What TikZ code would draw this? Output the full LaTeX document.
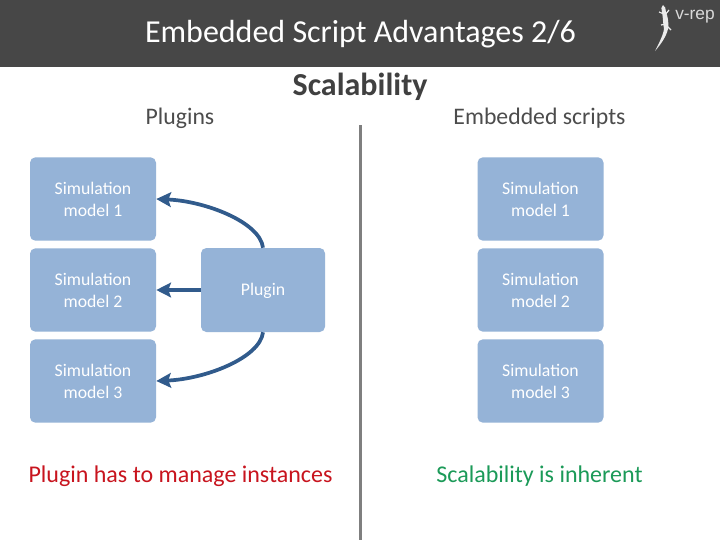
\documentclass[tikz,border=0pt]{standalone}
\usepackage{fontspec}
\setmainfont{Carlito}
\newfontfamily\logofont{Liberation Sans}
\usetikzlibrary{arrows.meta}
\definecolor{hdr}{HTML}{474747}
\definecolor{boxfill}{HTML}{95B3D7}
\definecolor{arrowc}{HTML}{315B8C}
\definecolor{divc}{HTML}{7F7F7F}
\definecolor{redtxt}{HTML}{C8141E}
\definecolor{greentxt}{HTML}{1B9A58}
\tikzset{
  simbox/.style={fill=boxfill,draw=none,rounded corners=4pt,minimum width=94.5pt,minimum height=62.5pt,inner sep=0pt,text=white,align=center,font=\fontsize{13.3}{16.5}\selectfont},
  plugbox/.style={simbox,minimum width=93pt,minimum height=63pt},
  link/.style={draw=arrowc,line width=2.8pt,-{Stealth[length=11pt,width=11pt,inset=2pt]}},
  heading/.style={text=black!70,font=\fontsize{17.8}{20}\selectfont,inner sep=0pt},
  result/.style={font=\fontsize{18}{20}\selectfont,inner sep=0pt}
}
\begin{document}
\begin{tikzpicture}[x=0.75pt,y=-0.75pt]
\useasboundingbox (0,0) rectangle (720,540);
\fill[white] (0,0) rectangle (720,540);
\fill[hdr] (0,0) rectangle (720,67);
\node[text=white,font=\fontsize{24}{26}\selectfont,inner sep=0pt] (title) at (360.5,34.5) {Embedded Script Advantages 2/6};
\node[text=black!75,font=\bfseries\fontsize{24}{26}\selectfont,inner sep=0pt] (scal) at (360,87) {Scalability};
\node[heading] (hl) at (180,118) {Plugins};
\node[heading] (hr) at (539.5,118) {Embedded scripts};
\coordinate (d1) at (360.5,125);
\coordinate (d2) at (360.5,540);
\draw[divc,line width=2.2pt] (d1) -- (d2);
\node[simbox] (a1) at (93,199) {Simulation\\model 1};
\node[simbox] (a2) at (93,290) {Simulation\\model 2};
\node[simbox] (a3) at (93,381) {Simulation\\model 3};
\node[plugbox] (p) at (263,290) {\raisebox{0pt}[11pt][2.5pt]{Plugin}};
\node[simbox] (b1) at (540.5,199) {Simulation\\model 1};
\node[simbox] (b2) at (540.5,290) {Simulation\\model 2};
\node[simbox] (b3) at (540.5,381) {Simulation\\model 3};
\draw[link] (p.north) .. controls (260,222) and (205,201) .. (a1.east);
\draw[link] (p.west) -- (a2.east);
\draw[link] (p.south) .. controls (260,358) and (205,379) .. (a3.east);
\node[result,text=redtxt] (rl) at (180.5,476) {Plugin has to manage instances};
\node[result,text=greentxt] (rr) at (539.5,476) {Scalability is inherent};
% logo
\node[text=white!85!black,font=\logofont\fontsize{13}{15}\selectfont,inner sep=0pt] (logo) at (695,17) {v-rep};
\fill[white!92!black] (663,5) .. controls (665,6) and (666,9) .. (666,12) .. controls (668,17) and (669,24) .. (668,29) .. controls (666,37) and (661,44) .. (655,51) .. controls (658,45) and (663,36) .. (664,29) .. controls (663,24) and (663,17) .. (662,12) .. controls (661,9) and (661,7) .. (663,5) -- cycle;
\draw[white!92!black,line width=0.9pt] (659,12) -- (664,14) (669,10) -- (665,15) (661,25) -- (665,24) (671,30) -- (667,26);
\end{tikzpicture}
\end{document}
